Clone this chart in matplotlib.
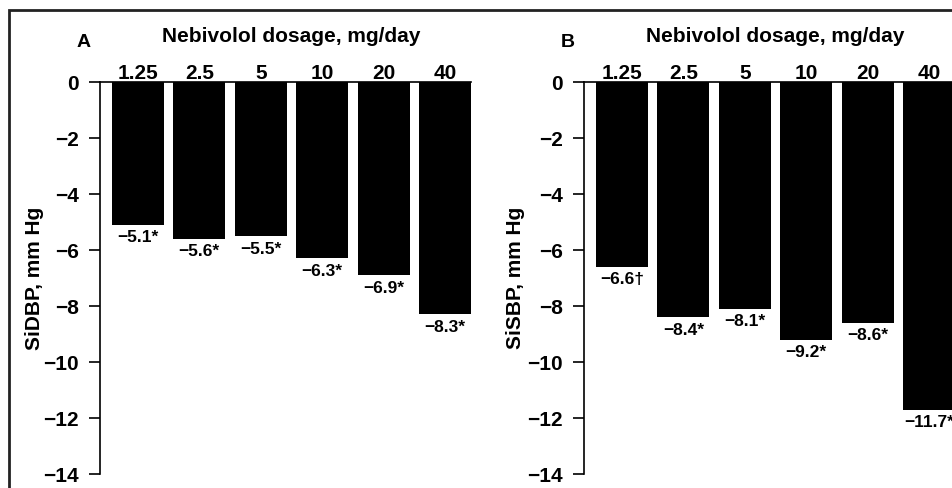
import matplotlib.pyplot as plt
from matplotlib.patches import Rectangle

# Data
dosages = ['1.25', '2.5', '5', '10', '20', '40']
sidbp_change = [-5.1, -5.6, -5.5, -6.3, -6.9, -8.3]
sidbp_marks = ['*', '*', '*', '*', '*', '*']
sisbp_change = [-6.6, -8.4, -8.1, -9.2, -8.6, -11.7]
sisbp_marks = ['\u2020', '*', '*', '*', '*', '*']
yticks = [0, -2, -4, -6, -8, -10, -12, -14]

plt.rcParams['font.family'] = ['Liberation Sans', 'DejaVu Sans']
plt.rcParams['font.weight'] = 'bold'

W, H = 953, 488
fig = plt.figure(figsize=(W / 100, H / 100), dpi=100)


def px_axes(left, right, top, bottom):
    return fig.add_axes([left / W, (H - bottom) / H, (right - left) / W, (bottom - top) / H])


def draw_panel(ax, values, marks, letter, ylabel, ylabel_x):
    x = list(range(len(dosages)))
    ax.bar(x, values, width=0.84, color='black', align='center')
    ax.set_xlim(-0.615, len(dosages) - 1 + 0.42)
    ax.set_ylim(-14, 0)
    ax.set_yticks(yticks)
    ax.set_yticklabels(['\u2212' + str(-t) if t else '0' for t in yticks], fontsize=15, fontweight='bold')
    ax.tick_params(axis='y', direction='out', length=8, width=1.2, pad=7)
    ax.xaxis.set_ticks_position('top')
    ax.set_xticks(x)
    ax.set_xticklabels(dosages, fontsize=15, fontweight='bold')
    ax.tick_params(axis='x', length=0, pad=-0.5)
    ax.spines['right'].set_visible(False)
    ax.spines['bottom'].set_visible(False)
    ax.spines['left'].set_linewidth(1.2)
    ax.spines['top'].set_linewidth(1.2)

    for xi, v, m in zip(x, values, marks):
        ax.annotate('\u2212%.1f%s' % (-v, m), (xi, v), xytext=(0, -4), textcoords='offset points',
                    ha='center', va='top', fontsize=12.5, fontweight='bold')

    ax.set_ylabel(ylabel, fontsize=15, fontweight='bold')
    ax.yaxis.set_label_coords(ylabel_x, 0.5)
    ax.text(-0.045, 1.1, letter, transform=ax.transAxes, ha='center', va='center',
            fontsize=14, fontweight='bold')
    ax.text(0.516, 1.115, 'Nebivolol dosage, mg/day', transform=ax.transAxes, ha='center',
            va='center', fontsize=15, fontweight='bold')


ax_a = px_axes(100, 471, 82, 474)
draw_panel(ax_a, sidbp_change, sidbp_marks, 'A', 'SiDBP, mm Hg', -0.15)

ax_b = px_axes(584, 955, 82, 474)
draw_panel(ax_b, sisbp_change, sisbp_marks, 'B', 'SiSBP, mm Hg', -0.158)

# outer frame of the figure (cut off on right and bottom)
frame = Rectangle((9 / W, -0.2), 1.2, (H - 10) / H + 0.2, transform=fig.transFigure,
                  fill=False, edgecolor='#222222', linewidth=2)
fig.add_artist(frame)

plt.savefig('out.png', dpi=100)
plt.close()
